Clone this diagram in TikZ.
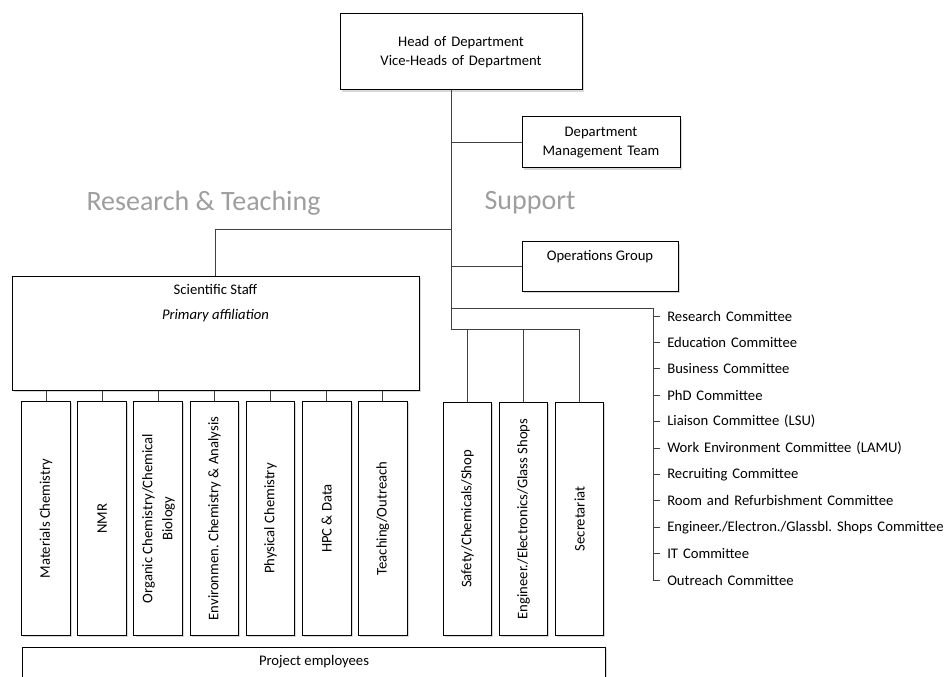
\documentclass[tikz,border=0pt]{standalone}
\usepackage{fontspec}
\setmainfont{Carlito}
\usetikzlibrary{positioning,shadows}
\frenchspacing
\tikzset{
    orgbox/.style={
           rectangle,
           draw=black, line width=0.75pt,
           fill=white,
           drop shadow={shadow xshift=1.2pt, shadow yshift=-1.2pt, opacity=0.3},
           inner sep=2pt,
           text centered,
           font=\fontsize{11pt}{13.7pt}\selectfont,
           },
    unitbox/.style={
           orgbox,
           minimum width=36.5pt,
           minimum height=175pt,
           font=\fontsize{11pt}{15pt}\selectfont,
           },
    insidetop/.style={
           anchor=north,
           inner sep=6.5pt,
           align=center,
           font=\fontsize{11pt}{13.7pt}\selectfont,
           },
    committee/.style={
           text width=225pt,
           align=left,
           inner xsep=5.25pt,
           inner ysep=1pt,
           font=\fontsize{11pt}{13pt}\selectfont,
           },
    sidetitle/.style={
           text=black!38,
           font=\fontsize{21pt}{24pt}\selectfont,
           },
    link/.style={draw=black!75, line width=0.75pt},
}

\begin{document}
\begin{tikzpicture}[x=0.75pt, y=-0.75pt]
    \useasboundingbox (0,0) rectangle (952,677);
    \clip (0,0) rectangle (952,677);

    % Management at the top
    \node[orgbox,
    minimum width=181.5pt, minimum height=57pt,
    text width=170pt] (head) at (461,52)
    {Head of Department\\ Vice-Heads of Department};

    \node[orgbox,
    minimum width=118.5pt, minimum height=38.25pt,
    text width=110pt] (mgmtteam) at (601,142.5)
    {Department\\ Management Team};

    \node[orgbox,
    minimum width=117pt, minimum height=36.75pt,
    label={[insidetop]north:Operations Group}] (opsgroup) at (600,266.5) {};

    % Titles of the two halves
    \node[sidetitle] (restitle) at (203.5,203) {Research \& Teaching};
    \node[sidetitle] (suptitle) at (530,203) {Support};

    % Research & Teaching side
    \node[orgbox,
    minimum width=305.25pt, minimum height=85.5pt,
    label={[insidetop]north:Scientific Staff\\[5pt] \textit{Primary affiliation}}] (staff) at (215.5,333) {};

    \node[unitbox] (matchem) at (46,518.5)
    {\rotatebox{90}{Materials Chemistry}};

    \node[unitbox,
    right of=matchem,
    node distance=42.1pt] (nmr)
    {\rotatebox{90}{NMR}};

    \node[unitbox,
    right of=nmr,
    node distance=42.1pt] (orgchem)
    {\rotatebox{90}{\begin{tabular}{@{}c@{}}Organic Chemistry/Chemical\\ Biology\end{tabular}}};

    \node[unitbox,
    right of=orgchem,
    node distance=42.1pt] (envchem)
    {\rotatebox{90}{Environmen. Chemistry \& Analysis}};

    \node[unitbox,
    right of=envchem,
    node distance=42.1pt] (physchem)
    {\rotatebox{90}{Physical Chemistry}};

    \node[unitbox,
    right of=physchem,
    node distance=42.1pt] (hpcdata)
    {\rotatebox{90}{HPC \& Data}};

    \node[unitbox,
    right of=hpcdata,
    node distance=42.1pt] (teaching)
    {\rotatebox{90}{Teaching/Outreach}};

    \node[orgbox,
    minimum width=437.25pt, minimum height=45pt,
    anchor=north west,
    label={[insidetop, inner sep=6pt]north:Project employees}] (project) at (22,647) {};

    % Support side
    \node[unitbox] (safety) at (467.5,519)
    {\rotatebox{90}{Safety/Chemicals/Shop}};

    \node[unitbox,
    right of=safety,
    node distance=42pt] (shops)
    {\rotatebox{90}{Engineer./Electronics/Glass Shops}};

    \node[unitbox,
    right of=shops,
    node distance=42pt] (secretariat)
    {\rotatebox{90}{Secretariat}};

    % Committees
    \node[committee, anchor=west] (research) at (660,316) {Research Committee};
    \node[committee, below of=research, node distance=19.8pt] (education) {Education Committee};
    \node[committee, below of=education, node distance=19.8pt] (business) {Business Committee};
    \node[committee, below of=business, node distance=19.8pt] (phd) {PhD Committee};
    \node[committee, below of=phd, node distance=19.8pt] (liaison) {Liaison Committee (LSU)};
    \node[committee, below of=liaison, node distance=19.8pt] (workenv) {Work Environment Committee (LAMU)};
    \node[committee, below of=workenv, node distance=19.8pt] (recruiting) {Recruiting Committee};
    \node[committee, below of=recruiting, node distance=19.8pt] (room) {Room and Refurbishment Committee};
    \node[committee, below of=room, node distance=19.8pt] (shopscom) {Engineer./Electron./Glassbl. Shops Committee};
    \node[committee, below of=shopscom, node distance=19.8pt] (itcom) {IT Committee};
    \node[committee, below of=itcom, node distance=19.8pt] (outreach) {Outreach Committee};

    % the connecting lines
    \coordinate (trunk) at (451,230);
    \coordinate (supbar) at (451,329);
    \coordinate (combar) at (653,308);

    \path[link] (head.south -| trunk) -- (supbar) -| (secretariat.north);
    \path[link] (trunk) -| (staff.north);
    \path[link] (trunk |- mgmtteam.west) -- (mgmtteam.west);
    \path[link] (trunk |- opsgroup.west) -- (opsgroup.west);
    \path[link] (safety.north) -- (safety.north |- supbar);
    \path[link] (shops.north) -- (shops.north |- supbar);

    \path[link] (trunk |- combar) -- (combar) |- (outreach.west);
    \path[link] (combar |- research.west) -- (research.west);
    \path[link] (combar |- education.west) -- (education.west);
    \path[link] (combar |- business.west) -- (business.west);
    \path[link] (combar |- phd.west) -- (phd.west);
    \path[link] (combar |- liaison.west) -- (liaison.west);
    \path[link] (combar |- workenv.west) -- (workenv.west);
    \path[link] (combar |- recruiting.west) -- (recruiting.west);
    \path[link] (combar |- room.west) -- (room.west);
    \path[link] (combar |- shopscom.west) -- (shopscom.west);
    \path[link] (combar |- itcom.west) -- (itcom.west);

    \path[link] (matchem.north) -- (matchem.north |- staff.south);
    \path[link] (nmr.north) -- (nmr.north |- staff.south);
    \path[link] (orgchem.north) -- (orgchem.north |- staff.south);
    \path[link] (envchem.north) -- (envchem.north |- staff.south);
    \path[link] (physchem.north) -- (physchem.north |- staff.south);
    \path[link] (hpcdata.north) -- (hpcdata.north |- staff.south);
    \path[link] (teaching.north) -- (teaching.north |- staff.south);
\end{tikzpicture}
\end{document}
